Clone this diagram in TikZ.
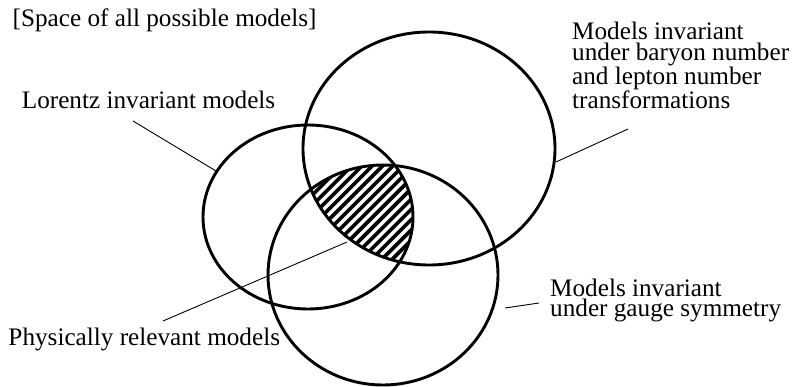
\documentclass[tikz,border=0pt]{standalone}
\usepackage{fontspec}
\setmainfont{Liberation Serif}
\begin{document}
\begin{tikzpicture}[x=1pt,y=-1pt,
  setline/.style={line width=2.9pt},
  leader/.style={line width=0.9pt},
  hatch/.style={line width=3.6pt},
  lbl/.style={anchor=base west, inner sep=0pt, align=left,
              font=\fontsize{25.2}{20.3}\selectfont}]
\useasboundingbox (0,0) rectangle (792,387);

% ellipse parameters: centre, x radius, y radius
\def\Lc{(308,217)}  \def\Lrx{105} \def\Lry{92}
\def\Bc{(429,148.5)} \def\Brx{126} \def\Bry{116.5}
\def\Gc{(383,275)}  \def\Grx{115} \def\Gry{110}

% common part of the three sets, hatched
\begin{scope}
  \clip \Lc ellipse [x radius=\Lrx, y radius=\Lry];
  \clip \Bc ellipse [x radius=\Brx, y radius=\Bry];
  \clip \Gc ellipse [x radius=\Grx, y radius=\Gry];
  \foreach \k in {-40,...,40}
    \draw[hatch] ({300+\k*10.3},300) -- ++(200,-200);
\end{scope}

% the three sets
\draw[setline] \Lc ellipse [x radius=\Lrx, y radius=\Lry];
\draw[setline] \Bc ellipse [x radius=\Brx, y radius=\Bry];
\draw[setline] \Gc ellipse [x radius=\Grx, y radius=\Gry];

% labels (base anchor of a multi-line label sits on its last line)
\node[lbl] (space)   at (12.5,27)   {[Space of all possible models]};
\node[lbl] (lorentz) at (21.7,108.3) {Lorentz invariant models};
\node[lbl] (baryon)  at (572,108.3) {Models invariant\\under baryon number\\and lepton number\\transformations};
\node[lbl] (phys)    at (8.3,345)   {Physically relevant models};
\node[lbl] (gauge)   at (550,316.7) {Models invariant\\under gauge symmetry};

% leader lines
\coordinate (lzA) at (133,121);   \coordinate (lzB) at (216,171);
\coordinate (baA) at (628,129);   \coordinate (baB) at (556,162);
\coordinate (phA) at (163,321);   \coordinate (phB) at (347,242);
\coordinate (gaA) at (539,303);   \coordinate (gaB) at (505,308);
\draw[leader] (lzA) -- (lzB);
\draw[leader] (baA) -- (baB);
\draw[leader] (phA) -- (phB);
\draw[leader] (gaA) -- (gaB);
\end{tikzpicture}
\end{document}
